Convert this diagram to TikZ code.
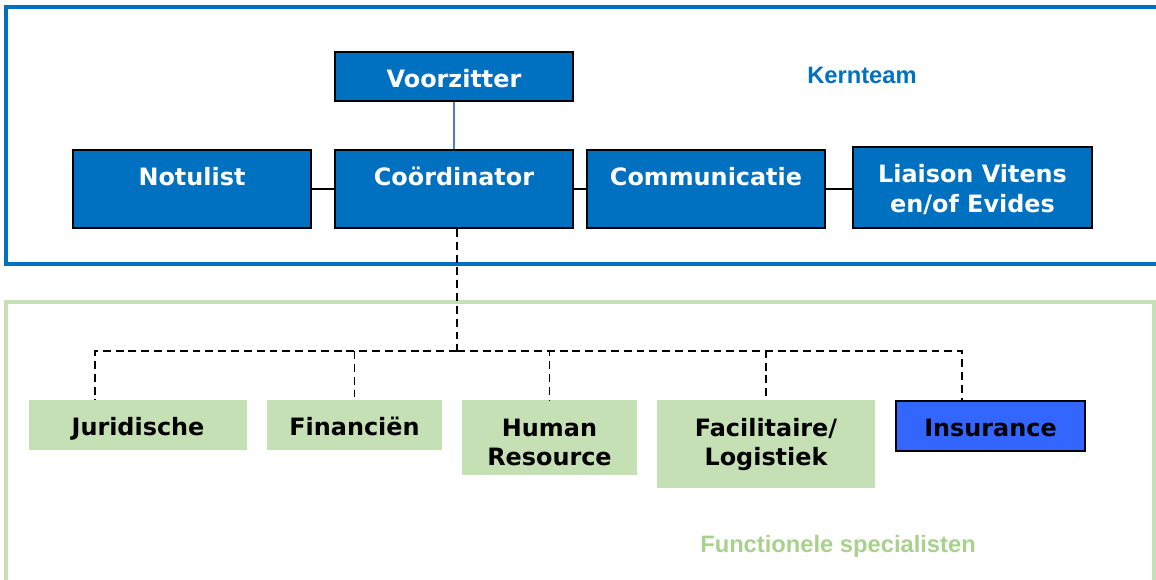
\documentclass[tikz,border=0pt]{standalone}
\usepackage{fontspec}
\setmainfont{DejaVu Sans}
\newfontfamily\arialfont{Liberation Sans}
\usepackage{tikz}
\usetikzlibrary{calc}
\usetikzlibrary{positioning}
\definecolor{kblue}{HTML}{0070C0}
\definecolor{fgreen}{HTML}{C5E0B4}
\definecolor{ftext}{HTML}{A9D18E}
\definecolor{iblue}{HTML}{3366FF}
\definecolor{vlink}{HTML}{4F81BD}
\newcommand\lift[1]{\rule{0pt}{#1}}
\tikzset{K/.style={rectangle,fill=kblue,draw=black,line width=1.1pt,text=white,font=\fontsize{13.6}{17}\selectfont\bfseries,align=center,inner sep=0pt,minimum width=4.76cm,minimum height=1.56cm}}
\tikzset{F/.style={rectangle,fill=fgreen,anchor=north,text=black,font=\fontsize{13.6}{16.5}\selectfont\bfseries,align=center,inner sep=0pt,minimum height=1cm}}
\tikzset{one/.style={text height=12.4pt,text depth=0.5pt}}
\tikzset{hlink/.style={line width=0.9pt,draw=black}}
\tikzset{dline/.style={line width=0.85pt,dash pattern=on 4.5pt off 2.8pt}}
\tikzset{frame/.style={line width=2pt}}
\tikzset{tag/.style={font=\arialfont\fontsize{13.5}{16}\selectfont\bfseries}}

\begin{document}
\begin{tikzpicture}[x=0.02cm,y=-0.02cm]
\useasboundingbox (0,0) rectangle (1156,579);
\clip (0,0) rectangle (1156,579);

% frames
\draw[frame,kblue] (6,7) rectangle (1180,264);
\draw[frame,fgreen,line width=1.8pt] (6,302) rectangle (1154,620);

% kernteam
\node[K,minimum height=0.98cm] (vz) at (454,76.5) {\lift{12.5pt}Voorzitter};
\node[K] (not) at (192,189) {\lift{12.5pt}Notulist\\~};
\node[K] (coord) at (454,189) {\lift{12.5pt}Coördinator\\~};
\node[K] (comm) at (706,189) {\lift{12.5pt}Communicatie\\~};
\node[K,minimum width=4.78cm,minimum height=1.62cm] (lia) at (972.5,187.5) {\lift{12.5pt}Liaison Vitens\\en/of Evides};
\node[tag,text=kblue] (kt) at (862,75.5) {Kernteam};

\draw[vlink,line width=0.7pt] (vz) -- (coord);
\draw[hlink] (not) -- (coord);
\draw[hlink] (coord.east) -- (coord.east -| comm.west);
\draw[hlink] (comm.east) -- (comm.east -| lia.west);

% specialisten
\node[F,one,minimum width=4.36cm] (jur) at (138,400) {Juridische};
\node[F,one,minimum width=3.5cm] (fin) at (354.5,400) {Financiën};
\node[F,minimum width=3.5cm,minimum height=1.5cm] (hr) at (549.5,400) {\lift{14.7pt}Human\\Resource};
\node[F,minimum width=4.36cm,minimum height=1.76cm] (fac) at (766,400) {Facilitaire/\\Logistiek};
\node[F,one,fill=iblue,draw=black,line width=1.1pt,minimum width=3.78cm] (ins) at (990.5,400) {Insurance};
\node[tag,text=ftext] (fs) at (838,546.5) {Functionele specialisten};

\coordinate (bus) at (457,351);
\draw[dline] (bus |- coord.south) -- (bus);
\draw[dline] (bus) -| ([xshift=-0.86cm]jur.north);
\foreach \g in {fin, hr, fac}
  {
 \draw[dline] (bus) -| (\g.north);
 }
\draw[dline] (bus) -| ([xshift=-0.57cm]ins.north);

\end{tikzpicture}
\end{document}
